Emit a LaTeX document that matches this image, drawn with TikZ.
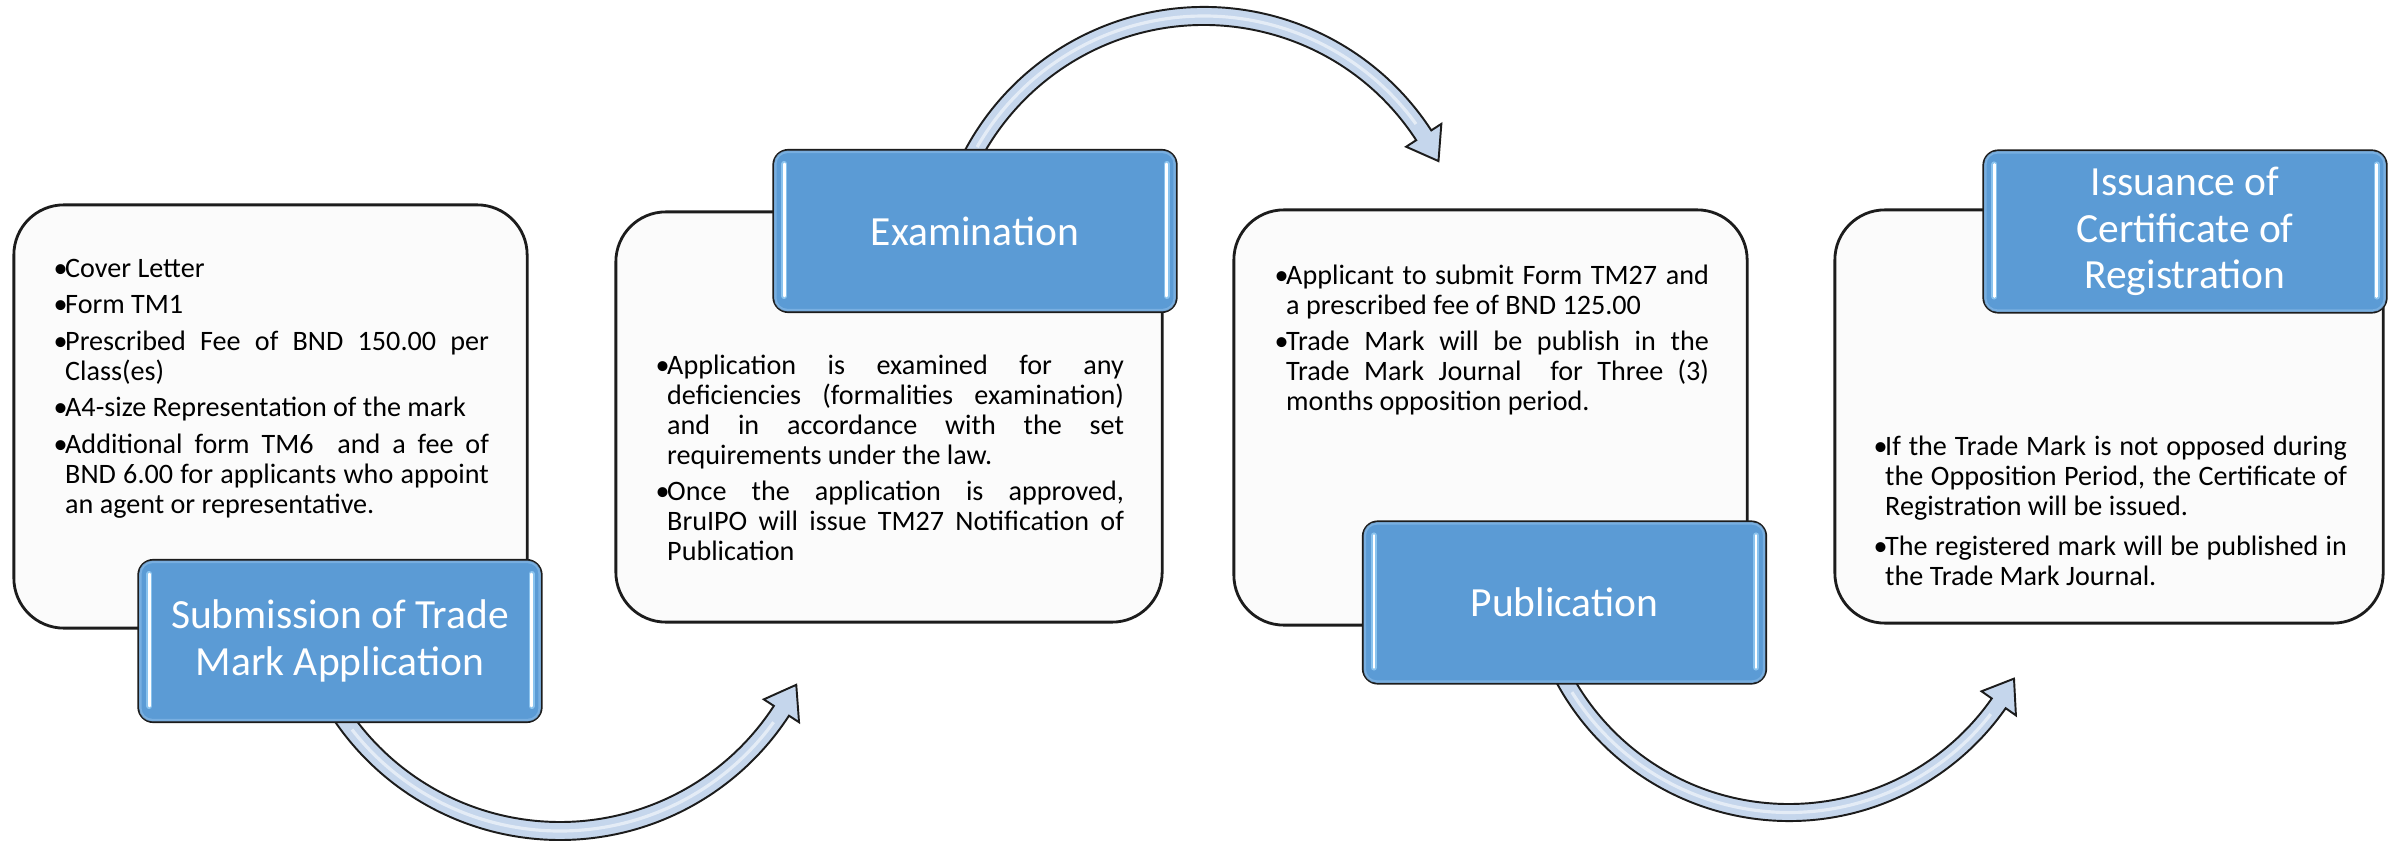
\documentclass[tikz,border=0pt]{standalone}
\usepackage{fontspec}
\setmainfont{Carlito}
\definecolor{bluefill}{RGB}{91,155,213}
\definecolor{bluerim}{RGB}{128,180,228}
\definecolor{arrowfill}{RGB}{197,214,236}
\definecolor{boxfill}{RGB}{251,251,251}
\definecolor{edge}{RGB}{28,28,28}
\definecolor{glowblue}{RGB}{150,205,245}
\newlength\bulind
\setlength\bulind{0.115cm}
\newcommand\bodyset{\parskip=1.85pt\relax\hyphenpenalty=10000\relax\hbadness=10000\relax}
\newcommand\bul{\par\hangindent=\bulind\hangafter=1\noindent\hbox to\bulind{\rule{0pt}{7.2pt}\textbullet\hss}}
\begin{document}
\begin{tikzpicture}[x=0.01cm,y=0.01cm,
  panel/.style={draw=edge, line width=0.8pt, fill=boxfill, rounded corners=0.5cm, inner sep=0pt},
  title/.style={draw=edge, line width=0.6pt, fill=bluefill, rounded corners=0.15cm,
    minimum width=4.03cm, minimum height=1.62cm, text=white, align=center,
    font=\fontsize{11.8}{13.2}\selectfont, inner sep=0pt},
  body/.style={anchor=north west, inner sep=0pt, align=justify,
    font=\fontsize{8}{8.53}\selectfont},
  arrowshape/.style={draw=edge, line width=0.55pt, fill=arrowfill, line join=miter},
  shine/.style={draw=white, line width=0.9pt, opacity=0.55},
  rim/.style={draw=bluerim, line width=0.7pt, rounded corners=0.12cm, opacity=0.8},
  glowA/.style={draw=glowblue, line width=1.7pt, opacity=0.8, line cap=round},
  glowB/.style={draw=white, line width=0.7pt, line cap=round},
]
\fill[white] (0,0) rectangle (2401,842);
\useasboundingbox (0,0) rectangle (2401,842);

% arc centres of the curved arrows
\coordinate (c1) at (1204,564);
\coordinate (c2) at (560,275);
\coordinate (c3) at (1789,285.5);

% curved arrows
\filldraw[arrowshape] ([shift={(156:271)}]c1) arc[start angle=156, end angle=33, radius=271]
  -- ([shift={(33:283)}]c1) -- ([shift={(26.5:262)}]c1) -- ([shift={(33:241)}]c1)
  -- ([shift={(33:253)}]c1) arc[start angle=33, end angle=156, radius=253] -- cycle;
\draw[shine] ([shift={(150:262)}]c1) arc[start angle=150, end angle=36, radius=262];

\filldraw[arrowshape] ([shift={(212:273)}]c2) arc[start angle=212, end angle=327, radius=273]
  -- ([shift={(327:285)}]c2) -- ([shift={(333.5:264)}]c2) -- ([shift={(327:243)}]c2)
  -- ([shift={(327:255)}]c2) arc[start angle=327, end angle=212, radius=255] -- cycle;
\draw[shine] ([shift={(218:264)}]c2) arc[start angle=218, end angle=324, radius=264];

\filldraw[arrowshape] ([shift={(206:264.5)}]c3) arc[start angle=206, end angle=325, radius=264.5]
  -- ([shift={(325:277)}]c3) -- ([shift={(331.5:256)}]c3) -- ([shift={(325:235)}]c3)
  -- ([shift={(325:247.5)}]c3) arc[start angle=325, end angle=206, radius=247.5] -- cycle;
\draw[shine] ([shift={(212:256)}]c3) arc[start angle=212, end angle=322, radius=256];

% white panels
\node[panel, minimum width=5.13cm, minimum height=4.23cm] (p1) at (270.5,425.5) {};
\node[panel, minimum width=5.46cm, minimum height=4.10cm] (p2) at (889,425) {};
\node[panel, minimum width=5.13cm, minimum height=4.15cm] (p3) at (1490.5,424.5) {};
\node[panel, minimum width=5.48cm, minimum height=4.13cm] (p4) at (2109,425.5) {};

% panel texts
\node[body, text width=4.35cm] (t1) at (53,602) {\bodyset
\bul Cover Letter
\bul Form TM1
\bul Prescribed Fee of BND 150.00 per \linebreak Class(es)
\bul A4-size Representation of the mark
\bul Additional form TM6\ \ and a fee of \linebreak BND 6.00 for applicants who appoint \linebreak an agent or representative.\par};

\node[body, text width=4.68cm] (t2) at (655,505) {\bodyset
\bul Application is examined for any \linebreak deficiencies (formalities examination) \linebreak and in accordance with the set \linebreak requirements under the law.
\bul Once the application is approved, \linebreak BruIPO will issue TM27 Notification of \linebreak Publication\par};

\node[body, text width=4.34cm] (t3) at (1274,595) {\bodyset
\bul Applicant to submit Form TM27 and \linebreak a prescribed fee of BND 125.00
\bul Trade Mark will be publish in the \linebreak Trade Mark Journal\ \ for Three (3) \linebreak months opposition period.\par};

\node[body, text width=4.73cm] (t4) at (1873,424) {\bodyset
\bul If the Trade Mark is not opposed during \linebreak the Opposition Period, the Certificate of \linebreak Registration will be issued.
\bul The registered mark will be published in \linebreak the Trade Mark Journal.\par};

% blue title boxes
\node[title] (b1) at (340,201) {Submission of Trade\\Mark Application};
\node[title] (b2) at (975,611) {Examination};
\node[title] (b3) at (1564.5,239.5) {Publication};
\node[title] (b4) at (2185,610.5) {Issuance of\\Certificate of\\Registration};

% bevel highlights
\foreach \b in {b1,b2,b3,b4}{
  \draw[rim] ([shift={(3,-3)}]\b.north west) rectangle ([shift={(-3,3)}]\b.south east);
  \draw[glowA] ([xshift=0.12cm,yshift=-0.15cm]\b.north west) -- ([xshift=0.12cm,yshift=0.17cm]\b.south west);
  \draw[glowB] ([xshift=0.12cm,yshift=-0.15cm]\b.north west) -- ([xshift=0.12cm,yshift=0.17cm]\b.south west);
  \draw[glowA] ([xshift=-0.11cm,yshift=-0.15cm]\b.north east) -- ([xshift=-0.11cm,yshift=0.17cm]\b.south east);
  \draw[glowB] ([xshift=-0.11cm,yshift=-0.15cm]\b.north east) -- ([xshift=-0.11cm,yshift=0.17cm]\b.south east);
}
\end{tikzpicture}
\end{document}
